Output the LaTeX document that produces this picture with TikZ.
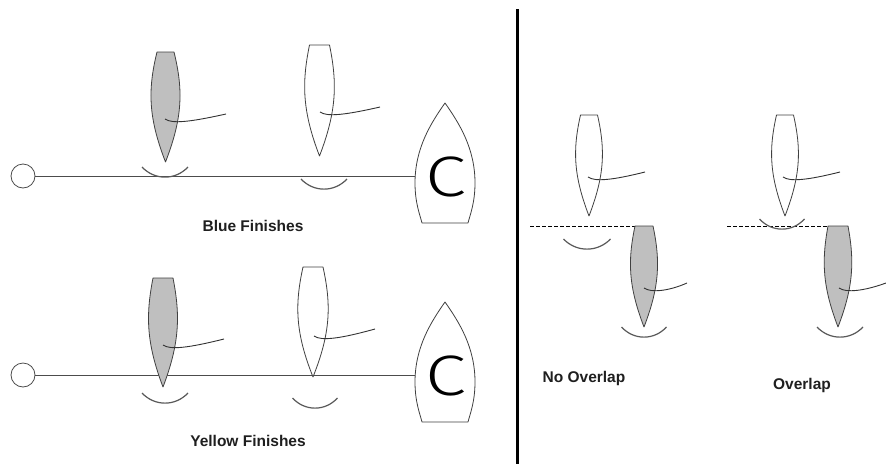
\documentclass[tikz,border=0pt]{standalone}
\usepackage{fontspec}
\setmainfont{Liberation Sans}
\newfontfamily\clightfont[FakeStretch=1.3]{Fira Sans Light}
\begin{document}
\begin{tikzpicture}[x=1pt,y=-1pt,
  hull/.style={draw=black!75,line width=0.8pt,line join=round},
  whitehull/.style={hull,fill=white},
  grayhull/.style={hull,fill=black!25},
  tiller/.style={draw=black!80,line width=0.9pt},
  wake/.style={draw=black!65,line width=1.2pt},
  startline/.style={draw=black!70,line width=0.9pt},
  pin/.style={circle,draw=black!70,line width=0.8pt,fill=white,minimum size=24pt,inner sep=0pt},
  dashline/.style={draw=black,line width=0.8pt,dash pattern=on 3.5pt off 2.5pt},
  divider/.style={draw=black,line width=3pt},
  caption/.style={font=\bfseries\fontsize{15.5}{18}\selectfont,text=black!88,inner sep=0pt},
  cletter/.style={font=\clightfont\fontsize{57}{64}\selectfont,inner sep=0pt}
]
\newcommand\sailboat[6]{%
  \draw[#6] ({#1-#4},#2) -- ({#1+#4},#2)
    .. controls ({#1+#5+3},{#2+0.35*#3}) and ({#1+#5+2},{#2+0.6*#3}) .. ({#1},{#2+#3})
    .. controls ({#1-#5-2},{#2+0.6*#3}) and ({#1-#5-3},{#2+0.35*#3}) .. cycle;}
\newcommand\tillerline[4]{%
  \draw[tiller] (#1,#2) .. controls ({#1+7},{#2+5}) and ({#1+25},{#2+3}) .. (#3,#4);}
\newcommand\wakearc[3]{%
  \draw[wake] ({#1-#3},{#2-10}) .. controls ({#1-0.45*#3},{#2+3.5}) and ({#1+0.45*#3},{#2+3.5}) .. ({#1+#3},{#2-10});}
\newcommand\cboat[2]{%
  \draw[whitehull] (#1,#2) .. controls ({#1+14},{#2+20}) and ({#1+30},{#2+45}) .. ({#1+30},{#2+80})
    .. controls ({#1+30},{#2+100}) and ({#1+25},{#2+112}) .. ({#1+23},{#2+120})
    -- ({#1-23},{#2+120})
    .. controls ({#1-25},{#2+112}) and ({#1-30},{#2+100}) .. ({#1-30},{#2+80})
    .. controls ({#1-30},{#2+45}) and ({#1-14},{#2+20}) .. cycle;
  \node[cletter] at ({#1+1},{#2+74}) {C};}

\useasboundingbox (0,0) rectangle (886,464);

% divider
\coordinate (dtop) at (517,9);
\coordinate (dbot) at (517,464);
\draw[divider] (dtop) -- (dbot);

% ---- top row: Blue Finishes ----
\node[pin] (pinA) at (23,176) {};
\coordinate (cbA) at (415,176);
\draw[startline] (pinA) -- (cbA);
\sailboat{165.5}{52}{110}{8.5}{15}{grayhull}
\tillerline{165}{119}{226}{114}
\wakearc{165}{177}{23}
\sailboat{319.5}{45}{111}{10}{15}{whitehull}
\tillerline{320}{112}{380}{107}
\wakearc{324}{189}{23}
\cboat{445}{103}
\node[caption] (capA) at (253,226) {Blue Finishes};

% ---- bottom row: Yellow Finishes ----
\node[pin] (pinB) at (23,375) {};
\coordinate (cbB) at (415,375);
\draw[startline] (pinB) -- (cbB);
\sailboat{163}{278}{109}{10}{14.5}{grayhull}
\tillerline{163}{345}{224}{339}
\wakearc{165}{403}{23}
\sailboat{313}{267}{110}{10}{15.5}{whitehull}
\tillerline{314}{336}{375}{329}
\wakearc{315}{408}{22.5}
\cboat{445}{302}
\node[caption] (capB) at (248,441) {Yellow Finishes};

% ---- right: No Overlap ----
\coordinate (dlA) at (530,226);
\coordinate (gtA) at (635,226);
\draw[dashline] (dlA) -- (gtA);
\sailboat{589}{115}{101}{8.5}{13.5}{whitehull}
\tillerline{588}{177}{645}{172}
\wakearc{587}{249}{23.5}
\sailboat{644}{226}{101}{9}{13.5}{grayhull}
\tillerline{644}{288}{687}{283}
\wakearc{644}{337}{22.5}
\node[caption] (capC) at (584,378) {No Overlap};

% ---- right: Overlap ----
\coordinate (dlB) at (727,226);
\coordinate (gtB) at (827,226);
\draw[dashline] (dlB) -- (gtB);
\sailboat{785}{115}{101}{8.5}{13.5}{whitehull}
\tillerline{783}{177}{840}{172}
\wakearc{782}{229}{22.5}
\sailboat{838}{226}{101}{10}{13.5}{grayhull}
\tillerline{839}{288}{886}{283}
\wakearc{840}{337}{23}
\node[caption] (capD) at (802,385) {Overlap};
\end{tikzpicture}
\end{document}
